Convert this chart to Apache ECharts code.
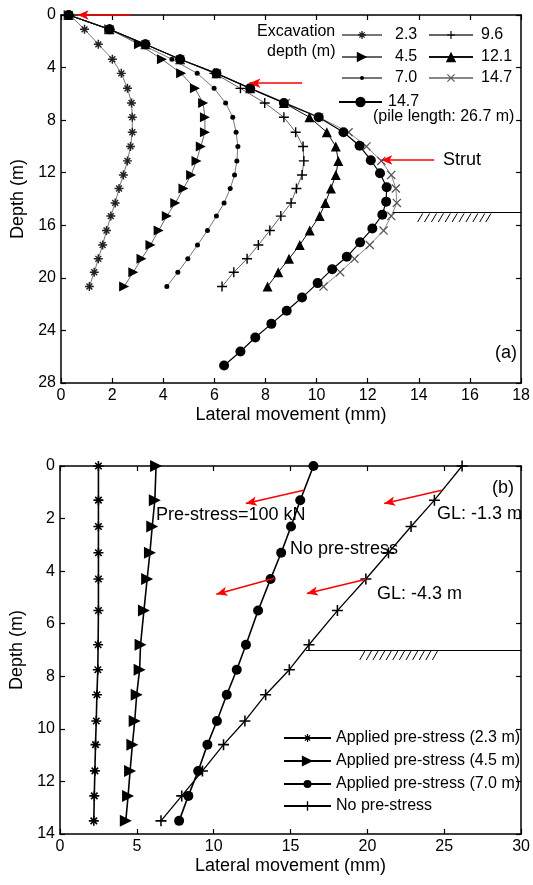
<!DOCTYPE html>
<html><head><meta charset="utf-8">
<script src="https://cdn.jsdelivr.net/npm/echarts@6/dist/echarts.min.js"></script>
<style>html,body{margin:0;padding:0;background:#fff}#c{width:533px;height:885px}</style>
</head><body><div id="c"></div>
<script>
// ---------- Panel (a) data ----------
const depthA = [0, 1.09, 2.23, 3.37, 4.44, 5.58, 6.69, 7.78, 8.92, 10.0, 11.1, 12.17, 13.2, 14.3, 15.3, 16.4, 17.5, 18.55, 19.57, 20.66];
const x23  = [0.34, 0.92, 1.46, 2.01, 2.36, 2.60, 2.76, 2.79, 2.79, 2.72, 2.60, 2.44, 2.27, 2.12, 1.95, 1.78, 1.63, 1.46, 1.30, 1.11];
const x45  = [0.30, 1.89, 3.05, 3.95, 4.70, 5.24, 5.56, 5.63, 5.63, 5.47, 5.30, 5.09, 4.79, 4.47, 4.14, 3.82, 3.50, 3.15, 2.83, 2.47];
const x70  = [0.30, 1.90, 3.15, 4.34, 5.33, 5.99, 6.44, 6.72, 6.85, 6.92, 6.88, 6.79, 6.62, 6.38, 6.08, 5.73, 5.34, 4.96, 4.57, 4.14];
const x96  = [0.30, 1.90, 3.30, 4.66, 6.00, 7.02, 7.97, 8.72, 9.18, 9.47, 9.50, 9.43, 9.21, 9.00, 8.60, 8.17, 7.72, 7.28, 6.76, 6.30];
const x121 = [0.30, 1.90, 3.30, 4.66, 6.08, 7.40, 8.72, 9.72, 10.40, 10.75, 10.85, 10.75, 10.56, 10.34, 10.12, 9.73, 9.34, 8.92, 8.50, 8.08];
const x147 = [0.30, 1.90, 3.30, 4.66, 6.10, 7.43, 8.80, 10.10, 11.25, 11.95, 12.53, 12.92, 13.10, 13.14, 12.92, 12.62, 12.08, 11.48, 10.92, 10.27];
const depthPile = [0, 1.09, 2.23, 3.37, 4.44, 5.58, 6.69, 7.78, 8.92, 9.95, 11.05, 12.04, 13.1, 14.2, 15.2, 16.25, 17.3, 18.4, 19.34, 20.4, 21.5, 22.5, 23.5, 24.54, 25.6, 26.67];
const xPile = [0.30, 1.90, 3.30, 4.66, 6.08, 7.40, 8.72, 10.08, 11.05, 11.68, 12.12, 12.48, 12.74, 12.72, 12.57, 12.18, 11.70, 11.18, 10.61, 10.04, 9.43, 8.83, 8.23, 7.60, 7.02, 6.38];
const namesA = ['2.3', '4.5', '7.0', '9.6', '12.1', '14.7', '14.7 (26.7)'];

// ---------- Panel (b) data ----------
const depthB = [0, 1.3, 2.3, 3.3, 4.3, 5.5, 6.8, 7.75, 8.7, 9.7, 10.6, 11.6, 12.55, 13.5];
const xB23 = [2.50, 2.50, 2.50, 2.50, 2.50, 2.50, 2.48, 2.46, 2.40, 2.36, 2.31, 2.27, 2.23, 2.20];
const xB45 = [6.25, 6.17, 6.00, 5.85, 5.67, 5.46, 5.24, 5.18, 4.99, 4.86, 4.71, 4.56, 4.43, 4.28];
const xB70 = [16.49, 15.63, 15.03, 14.39, 13.70, 12.89, 12.10, 11.50, 10.85, 10.21, 9.59, 8.99, 8.35, 7.75];
const xBno = [26.16, 24.36, 22.84, 21.37, 19.90, 18.05, 16.20, 14.92, 13.38, 12.03, 10.64, 9.27, 7.92, 6.57];
const namesB = ['Applied pre-stress (2.3 m)', 'Applied pre-stress (4.5 m)', 'Applied pre-stress (7.0 m)', 'No pre-stress'];

// ---------- Annotations (data coordinates) ----------
const arrowsA = [[2.72, 0, 0.65, 0], [9.43, 5.19, 7.37, 5.19], [14.6, 11.03, 12.53, 11.03]];
const groundA = [12.98, 15, 18, 15];
const hatchA = [13.95, 14.22, 14.49, 14.76, 15.03, 15.30, 15.57, 15.84, 16.11, 16.38, 16.62];
const arrowsB = [[15.85, 0.92, 12.09, 1.43], [24.84, 0.92, 21.09, 1.43], [13.94, 4.27, 10.17, 4.88], [19.91, 4.31, 16.06, 4.85]];
const groundB = [16.0, 7, 30, 7];
const hatchB = [19.5, 19.93, 20.36, 20.79, 21.22, 21.65, 22.08, 22.51, 22.94, 23.37, 23.8, 24.23];

const FONT = '"Liberation Sans", Arial, sans-serif';
const SYM = {
  plus: 'path://M4.3,0H5.7V4.3H10V5.7H5.7V10H4.3V5.7H0V4.3H4.3Z',
  cross: 'path://M0,1L1,0L10,9L9,10ZM9,0L10,1L1,10L0,9Z',
  star: 'path://M4.2,0H5.8V4.2H10V5.8H5.8V10H4.2V5.8H0V4.2H4.2ZM1.2,2.3L2.3,1.2L8.8,7.7L7.7,8.8ZM7.7,1.2L8.8,2.3L2.3,8.8L1.2,7.7Z',
  tri: 'path://M0,0L10,5L0,10Z'
};
function pairs(xs, ys) { return xs.map((x, i) => [x, ys[i]]); }

function axisX(grid, pos, max, interval, showLabel, name) {
  return {
    type: 'value', gridIndex: grid, position: pos, min: 0, max: max, interval: interval,
    axisLine: { show: true, onZero: false, lineStyle: { color: '#000', width: 1.5 } },
    axisTick: { show: true, inside: true, length: 5, lineStyle: { color: '#000', width: 1.2 } },
    axisLabel: { show: showLabel, fontSize: 16, color: '#000', fontFamily: FONT, margin: 5 },
    splitLine: { show: false },
    name: name || '', nameLocation: 'middle', nameGap: 23,
    nameTextStyle: { fontSize: 18, color: '#000', fontFamily: FONT }
  };
}
function axisY(grid, pos, max, interval, showLabel, name) {
  return {
    type: 'value', gridIndex: grid, position: pos, inverse: true, min: 0, max: max, interval: interval,
    axisLine: { show: true, onZero: false, lineStyle: { color: '#000', width: 1.5 } },
    axisTick: { show: true, inside: true, length: 5, lineStyle: { color: '#000', width: 1.2 } },
    axisLabel: { show: showLabel, fontSize: 16, color: '#000', fontFamily: FONT, margin: 5 },
    splitLine: { show: false },
    name: name || '', nameLocation: 'middle', nameGap: 34, nameRotate: 90,
    nameTextStyle: { fontSize: 18, color: '#000', fontFamily: FONT }
  };
}
function lineSeries(name, grid, data, symbol, size, mColor, lColor, lw) {
  return {
    name: name, type: 'line', xAxisIndex: grid * 2, yAxisIndex: grid * 2, data: data,
    symbol: symbol, symbolSize: size, showSymbol: true, showAllSymbol: true,
    itemStyle: { color: mColor }, lineStyle: { color: lColor, width: lw },
    emphasis: { disabled: true }, animation: false
  };
}
function hatchSegs(xs, y0, y1, dx) {
  return xs.map(x => [{ coord: [x, y0] }, { coord: [x + dx, y1] }]);
}
function annoSeries(grid, arrows, ground, hatch, hy0, hy1, hdx) {
  return {
    name: 'anno' + grid, type: 'line', xAxisIndex: grid * 2, yAxisIndex: grid * 2, data: [],
    animation: false, silent: true,
    markLine: {
      silent: true, animation: false, symbol: ['none', 'none'], symbolSize: 9,
      label: { show: false },
      lineStyle: { color: '#000', type: 'solid', width: 1 },
      emphasis: { disabled: true },
      data: [].concat(
        [[{ coord: [ground[0], ground[1]] }, { coord: [ground[2], ground[3]] }]],
        hatchSegs(hatch, hy0, hy1, hdx),
        arrows.map(a => [{ coord: [a[0], a[1]], symbol: 'none', lineStyle: { color: '#ff0000', width: 1.6, type: 'solid' } },
                          { coord: [a[2], a[3]], symbol: 'arrow', symbolSize: [7, 11] }])
      )
    }
  };
}
function txt(x, y, s, size) {
  return { type: 'text', x: x, y: y, z: 100, silent: true,
    style: { text: s, fill: '#000', font: size + 'px ' + FONT, textVerticalAlign: 'middle', textAlign: 'left' } };
}
// one legend entry per row: left edge of the icon, row centre, icon width/height, gap to text
function leg(name, left, cy, w, h, gap, fmt) {
  const l = {
    data: [name], left: left, top: cy - 6, padding: 0, orient: 'vertical',
    itemWidth: w, itemHeight: h, selectedMode: false,
    textStyle: { fontSize: 16, color: '#000', fontFamily: FONT, lineHeight: 16, padding: [0, 0, 0, gap] }
  };
  if (fmt) l.formatter = fmt;
  return l;
}

const seriesA = [
  lineSeries(namesA[0], 0, pairs(x23, depthA), SYM.star, 9, '#222', '#777', 1),
  lineSeries(namesA[1], 0, pairs(x45, depthA), SYM.tri, 10, '#000', '#666', 1),
  lineSeries(namesA[2], 0, pairs(x70, depthA), 'circle', 5, '#000', '#777', 1),
  lineSeries(namesA[3], 0, pairs(x96, depthA), SYM.plus, 10, '#000', '#666', 1),
  lineSeries(namesA[4], 0, pairs(x121, depthA), 'triangle', 10, '#000', '#111', 1),
  lineSeries(namesA[5], 0, pairs(x147, depthA), SYM.cross, 9, '#555', '#888', 1),
  lineSeries(namesA[6], 0, pairs(xPile, depthPile), 'circle', 10, '#000', '#000', 1.2)
];
const seriesB = [
  lineSeries(namesB[0], 1, pairs(xB23, depthB), SYM.star, 10, '#000', '#000', 1.6),
  lineSeries(namesB[1], 1, pairs(xB45, depthB), SYM.tri, 12, '#000', '#000', 1.6),
  lineSeries(namesB[2], 1, pairs(xB70, depthB), 'circle', 10, '#000', '#000', 1.6),
  lineSeries(namesB[3], 1, pairs(xBno, depthB), SYM.plus, 11, '#000', '#000', 1.3)
];

const chart = echarts.init(document.getElementById('c'), null, { renderer: 'canvas' });
chart.setOption({
  animation: false,
  backgroundColor: '#fff',
  grid: [
    { left: 61, top: 15, width: 465, height: 368 },
    { left: 60, top: 466, width: 467, height: 368 }
  ],
  xAxis: [
    axisX(0, 'bottom', 18, 2, true, 'Lateral movement (mm)'),
    axisX(0, 'top', 18, 2, false),
    axisX(1, 'bottom', 30, 5, true, 'Lateral movement (mm)'),
    axisX(1, 'top', 30, 5, false)
  ],
  yAxis: [
    axisY(0, 'left', 28, 4, true, 'Depth (m)'),
    axisY(0, 'right', 28, 4, false),
    axisY(1, 'left', 14, 2, true, 'Depth (m)'),
    axisY(1, 'right', 14, 2, false)
  ],
  legend: [
    leg(namesA[0], 341, 33, 40, 10, 8),
    leg(namesA[1], 341, 55, 40, 13, 8),
    leg(namesA[2], 341, 76, 40, 5, 8),
    leg(namesA[3], 428, 33, 44, 10, 3),
    leg(namesA[4], 428, 55, 44, 13, 3),
    leg(namesA[5], 428, 76, 44, 10, 3),
    leg(namesA[6], 338, 100, 43, 13, 1, n => n.split(' ')[0]),
    leg(namesB[0], 283, 736, 47, 10, 0),
    leg(namesB[1], 283, 759, 47, 14, 0),
    leg(namesB[2], 283, 782, 47, 10, 0),
    leg(namesB[3], 283, 804, 47, 12, 0)
  ],
  series: seriesA.concat([annoSeries(0, arrowsA, groundA, hatchA, 15.75, 15.1, 0.2)])
    .concat(seriesB).concat([annoSeries(1, arrowsB, groundB, hatchB, 7.38, 7.02, 0.35)]),
  graphic: [
    txt(257, 32, 'Excavation', 16),
    txt(267, 52, 'depth (m)', 16),
    txt(373, 117, '(pile length: 26.7 m)', 16),
    txt(443, 160, 'Strut', 18),
    txt(495, 353, '(a)', 18),
    txt(492, 488, '(b)', 18),
    txt(156, 515, 'Pre-stress=100 kN', 18),
    txt(290, 549, 'No pre-stress', 18),
    txt(437, 514, 'GL: -1.3 m', 18),
    txt(377, 594, 'GL: -4.3 m', 18)
  ]
});
</script></body></html>
